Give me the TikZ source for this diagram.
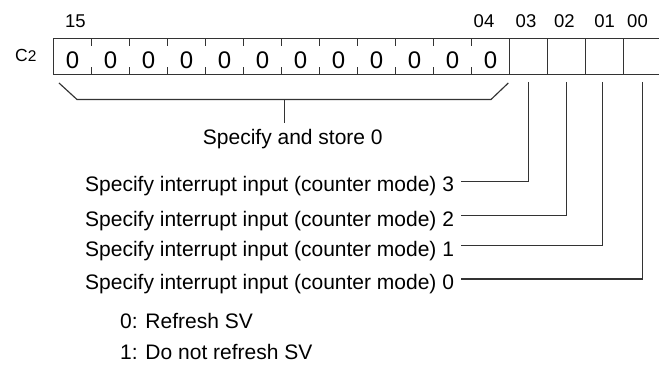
\documentclass[tikz,border=0pt]{standalone}
\usepackage{fontspec}
\setmainfont{Liberation Sans}
\begin{document}
\begin{tikzpicture}[x=1pt,y=-1pt,
  ln/.style={line width=1.15pt,draw=black!80},
  txt/.style={inner sep=0pt,anchor=base west,font=\fontsize{21}{25}\selectfont},
  bitlbl/.style={inner sep=0pt,anchor=base,font=\fontsize{18.5}{21}\selectfont},
  digit/.style={inner sep=0pt,anchor=base,font=\fontsize{24}{28}\selectfont}]
\useasboundingbox (0,0) rectangle (659,377);
% register
\draw[ln] (53.5,38.5) rectangle (661.5,74.5);
\foreach \k in {1,...,11}{
  \draw[ln] (53.5+38*\k,38.5) -- (53.5+38*\k,46.5);
  \draw[ln] (53.5+38*\k,67.5) -- (53.5+38*\k,74.5);
}
\foreach \k in {12,...,15}{
  \draw[ln] (53.5+38*\k,38.5) -- (53.5+38*\k,74.5);
}
\foreach \k in {0,...,11}{
  \node[digit] (d\k) at (72.5+38*\k,68.3) {0};
}
\node[inner sep=0pt,anchor=base west,font=\fontsize{17.5}{20}\selectfont] (reg) at (15,61.7) {C\fontsize{15.5}{18}\selectfont 2};
% bit labels
\node[bitlbl] (l15) at (75.5,28) {15};
\node[bitlbl] (l04) at (484,28) {04};
\node[bitlbl] (l03) at (526,28) {03};
\node[bitlbl] (l02) at (564.3,28) {02};
\node[bitlbl] (l01) at (604.7,28) {01};
\node[bitlbl] (l00) at (637.5,28) {00};
% brace
\coordinate (bl) at (59,83);
\coordinate (br) at (508.3,83);
\coordinate (bm) at (284.3,99.5);
\coordinate (bt) at (284.3,123);
\draw[ln] (bl) -- (77,99.5) -- (491,99.5) -- (br);
\draw[ln] (bm) -- (bt);
\node[txt] (store) at (202.7,145) {Specify and store 0};
% bit leaders
\coordinate (b3) at (528.5,82);
\coordinate (b2) at (566.5,82);
\coordinate (b1) at (602.5,82);
\coordinate (b0) at (642.5,82);
\node[txt] (t3) at (85,192) {Specify interrupt input (counter mode) 3};
\node[txt] (t2) at (85,226) {Specify interrupt input (counter mode) 2};
\node[txt] (t1) at (85,256) {Specify interrupt input (counter mode) 1};
\node[txt] (t0) at (85,289.5) {Specify interrupt input (counter mode) 0};
\draw[ln] (b3) |- ([xshift=7pt,yshift=10.5pt]t3.base east);
\draw[ln] (b2) |- ([xshift=7pt,yshift=10.5pt]t2.base east);
\draw[ln] (b1) |- ([xshift=7pt,yshift=10.5pt]t1.base east);
\draw[ln] (b0) |- ([xshift=7pt,yshift=10.5pt]t0.base east);
% legend
\node[txt] (n0) at (120,328) {0: Refresh SV};
\node[txt] (n1) at (120,359) {1: Do not refresh SV};
\end{tikzpicture}
\end{document}
